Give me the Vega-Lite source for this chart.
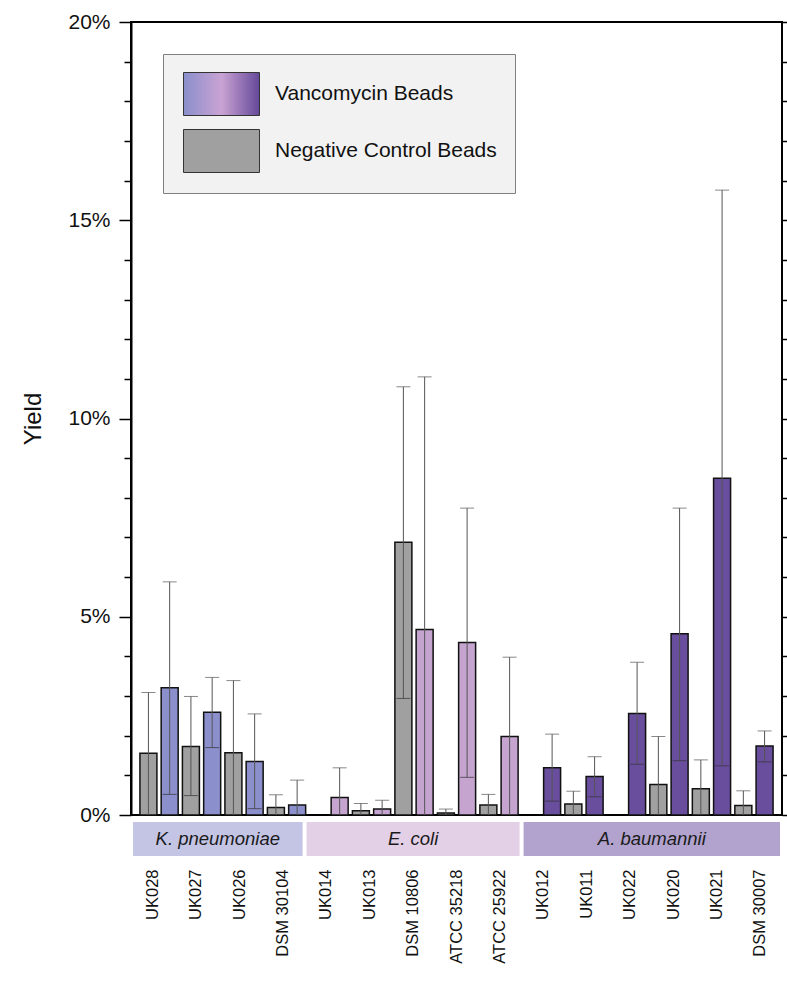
{
  "$schema": "https://vega.github.io/schema/vega-lite/v6.json",
  "background": "white",
  "padding": {"left": 20, "top": 10, "right": 0, "bottom": 0},
  "bounds": "flush",
  "spacing": 7,
  "resolve": {"scale": {"x": "independent"}},
  "config": {"font": "Liberation Sans", "view": {"stroke": null}},
  "datasets": {
    "bars": [
      {"group": "K. pneumoniae", "strain": "UK028", "beads": "Negative Control Beads", "yield": 1.56, "lo": 0, "hi": 3.09},
      {"group": "K. pneumoniae", "strain": "UK028", "beads": "Vancomycin Beads", "yield": 3.21, "lo": 0.52, "hi": 5.88},
      {"group": "K. pneumoniae", "strain": "UK027", "beads": "Negative Control Beads", "yield": 1.73, "lo": 0.49, "hi": 2.99},
      {"group": "K. pneumoniae", "strain": "UK027", "beads": "Vancomycin Beads", "yield": 2.59, "lo": 1.70, "hi": 3.47},
      {"group": "K. pneumoniae", "strain": "UK026", "beads": "Negative Control Beads", "yield": 1.57, "lo": 0, "hi": 3.39},
      {"group": "K. pneumoniae", "strain": "UK026", "beads": "Vancomycin Beads", "yield": 1.35, "lo": 0.16, "hi": 2.55},
      {"group": "K. pneumoniae", "strain": "DSM 30104", "beads": "Negative Control Beads", "yield": 0.19, "lo": 0, "hi": 0.51},
      {"group": "K. pneumoniae", "strain": "DSM 30104", "beads": "Vancomycin Beads", "yield": 0.25, "lo": 0, "hi": 0.88},
      {"group": "E. coli", "strain": "UK014", "beads": "Vancomycin Beads", "yield": 0.44, "lo": 0, "hi": 1.19},
      {"group": "E. coli", "strain": "UK013", "beads": "Negative Control Beads", "yield": 0.11, "lo": 0, "hi": 0.29},
      {"group": "E. coli", "strain": "UK013", "beads": "Vancomycin Beads", "yield": 0.15, "lo": 0, "hi": 0.37},
      {"group": "E. coli", "strain": "DSM 10806", "beads": "Negative Control Beads", "yield": 6.88, "lo": 2.94, "hi": 10.80},
      {"group": "E. coli", "strain": "DSM 10806", "beads": "Vancomycin Beads", "yield": 4.68, "lo": 0, "hi": 11.05},
      {"group": "E. coli", "strain": "ATCC 35218", "beads": "Negative Control Beads", "yield": 0.05, "lo": 0, "hi": 0.15},
      {"group": "E. coli", "strain": "ATCC 35218", "beads": "Vancomycin Beads", "yield": 4.35, "lo": 0.95, "hi": 7.74},
      {"group": "E. coli", "strain": "ATCC 25922", "beads": "Negative Control Beads", "yield": 0.25, "lo": 0, "hi": 0.52},
      {"group": "E. coli", "strain": "ATCC 25922", "beads": "Vancomycin Beads", "yield": 1.98, "lo": 0, "hi": 3.98},
      {"group": "A. baumannii", "strain": "UK012", "beads": "Vancomycin Beads", "yield": 1.19, "lo": 0.35, "hi": 2.04},
      {"group": "A. baumannii", "strain": "UK011", "beads": "Negative Control Beads", "yield": 0.28, "lo": 0, "hi": 0.60},
      {"group": "A. baumannii", "strain": "UK011", "beads": "Vancomycin Beads", "yield": 0.97, "lo": 0.46, "hi": 1.47},
      {"group": "A. baumannii", "strain": "UK022", "beads": "Vancomycin Beads", "yield": 2.56, "lo": 1.28, "hi": 3.85},
      {"group": "A. baumannii", "strain": "UK020", "beads": "Negative Control Beads", "yield": 0.77, "lo": 0, "hi": 1.98},
      {"group": "A. baumannii", "strain": "UK020", "beads": "Vancomycin Beads", "yield": 4.57, "lo": 1.37, "hi": 7.74},
      {"group": "A. baumannii", "strain": "UK021", "beads": "Negative Control Beads", "yield": 0.66, "lo": 0, "hi": 1.39},
      {"group": "A. baumannii", "strain": "UK021", "beads": "Vancomycin Beads", "yield": 8.49, "lo": 1.24, "hi": 15.76},
      {"group": "A. baumannii", "strain": "DSM 30007", "beads": "Negative Control Beads", "yield": 0.24, "lo": 0, "hi": 0.61},
      {"group": "A. baumannii", "strain": "DSM 30007", "beads": "Vancomycin Beads", "yield": 1.74, "lo": 1.34, "hi": 2.12}
    ],
    "groups": [
      {"group": "K. pneumoniae", "first": "UK028", "last": "DSM 30104", "mid": "UK027", "n": 4},
      {"group": "E. coli", "first": "UK014", "last": "ATCC 25922", "mid": "DSM 10806", "n": 5},
      {"group": "A. baumannii", "first": "UK012", "last": "DSM 30007", "mid": "UK022", "n": 6}
    ]
  },
  "vconcat": [
    {
      "width": 651,
      "height": 793,
      "view": {"stroke": "#000", "strokeWidth": 2},
      "data": {"name": "bars"},
      "encoding": {
        "x": {
          "field": "strain", "type": "nominal",
          "scale": {"domain": ["UK028", "UK027", "UK026", "DSM 30104", "UK014", "UK013", "DSM 10806", "ATCC 35218", "ATCC 25922", "UK012", "UK011", "UK022", "UK020", "UK021", "DSM 30007"], "paddingInner": 0, "paddingOuter": 0.16},
          "axis": null
        },
        "xOffset": {
          "field": "beads", "type": "nominal",
          "scale": {"domain": ["Negative Control Beads", "Vancomycin Beads"], "paddingInner": 0.2, "paddingOuter": 0.1}
        }
      },
      "layer": [
        {
          "mark": {"type": "bar", "stroke": "#111", "strokeWidth": 1.5},
          "encoding": {
            "y": {
              "field": "yield", "type": "quantitative",
              "scale": {"domain": [0, 20], "nice": false},
              "axis": {"orient": "left", "values": [0, 5, 10, 15, 20], "labelExpr": "datum.value + '%'", "title": "Yield", "grid": false,
                "tickSize": 12, "tickWidth": 1.5, "tickColor": "#000", "domain": true, "domainColor": "#000", "domainWidth": 2,
                "labelFontSize": 21, "labelColor": "#111", "labelPadding": 9, "titleFontSize": 24, "titleFontWeight": "normal", "titleColor": "#111", "titlePadding": 22}
            },
            "fill": {
              "condition": {"test": "datum.beads === 'Negative Control Beads'", "value": "#a0a0a0"},
              "field": "group", "type": "nominal",
              "scale": {
                "domain": ["Vancomycin Beads", "Negative Control Beads", "K. pneumoniae", "E. coli", "A. baumannii"],
                "range": [
                  {"expr": "{gradient: 'linear', x1: 0, y1: 0, x2: 1, y2: 0, stops: [{offset: 0, color: '#8a8fcc'}, {offset: 0.5, color: '#c9a3d3'}, {offset: 1, color: '#65489a'}]}"},
                  "#a0a0a0", "#8b8fcc", "#c5a4d0", "#6a4e9e"
                ]
              },
              "legend": {
                "values": ["Vancomycin Beads", "Negative Control Beads"],
                "orient": "none", "legendX": 32, "legendY": 32, "title": null,
                "symbolType": "M-1.767,-1H1.767V1H-1.767Z", "symbolSize": 1849, "symbolStrokeWidth": 1, "symbolStrokeColor": "#333",
                "symbolOffset": 18.5, "labelOffset": 31.5, "labelFontSize": 21, "labelColor": "#111", "labelLimit": 400,
                "rowPadding": 9, "padding": 18, "fillColor": "#f2f2f2", "strokeColor": "#808080"
              }
            }
          }
        },
        {
          "mark": {"type": "rule", "color": "#555", "strokeWidth": 1},
          "encoding": {
            "y": {
              "field": "lo", "type": "quantitative", "scale": {"domain": [0, 20], "nice": false},
              "axis": {"orient": "left", "values": [1, 2, 3, 4, 6, 7, 8, 9, 11, 12, 13, 14, 16, 17, 18, 19], "labels": false, "tickSize": 7, "tickWidth": 1.5, "tickColor": "#000", "domain": false, "grid": false, "title": null}
            },
            "y2": {"field": "hi"}
          }
        },
        {
          "mark": {"type": "tick", "color": "#555", "thickness": 1, "size": 14},
          "encoding": {
            "y": {
              "field": "hi", "type": "quantitative", "scale": {"domain": [0, 20], "nice": false},
              "axis": {"orient": "right", "values": [0, 1, 2, 3, 4, 5, 6, 7, 8, 9, 10, 11, 12, 13, 14, 15, 16, 17, 18, 19, 20], "labels": false, "tickSize": 7, "tickWidth": 1.5, "tickColor": "#000", "domain": false, "grid": false, "title": null}
            }
          }
        },
        {
          "transform": [{"filter": "datum.lo > 0"}],
          "mark": {"type": "tick", "color": "#333", "thickness": 1, "size": 14},
          "encoding": {
            "y": {"field": "lo", "type": "quantitative", "scale": {"domain": [0, 20], "nice": false}, "axis": null}
          }
        }
      ],
      "resolve": {"axis": {"y": "independent"}}
    },
    {
      "width": 651,
      "height": 34,
      "data": {"name": "groups"},
      "layer": [
        {
          "mark": {"type": "rect", "xOffset": 2, "x2Offset": -2},
          "encoding": {
            "x": {
              "field": "first", "type": "nominal", "bandPosition": 0,
              "scale": {"domain": ["UK028", "UK027", "UK026", "DSM 30104", "UK014", "UK013", "DSM 10806", "ATCC 35218", "ATCC 25922", "UK012", "UK011", "UK022", "UK020", "UK021", "DSM 30007"], "paddingInner": 0, "paddingOuter": 0},
              "axis": {"orient": "bottom", "labelAngle": -90, "labelAlign": "right", "labelBaseline": "middle", "labelPadding": 13, "labelFontSize": 16.5, "labelColor": "#111", "labelFont": "Liberation Sans", "ticks": false, "domain": false, "title": null, "labelLimit": 200, "grid": false}
            },
            "x2": {"field": "last", "bandPosition": 1},
            "color": {
              "field": "group", "type": "nominal",
              "scale": {"domain": ["K. pneumoniae", "E. coli", "A. baumannii"], "range": ["#c4c5e5", "#e4d0e6", "#b1a3cd"]},
              "legend": null
            }
          }
        },
        {
          "transform": [{"filter": "datum.n % 2 === 1"}],
          "mark": {"type": "text", "fontStyle": "italic", "fontSize": 18.5, "color": "#1a1a1a"},
          "encoding": {
            "x": {"field": "mid", "type": "nominal", "bandPosition": 0.5,
              "axis": {"orient": "bottom", "labelAngle": -90, "labelAlign": "right", "labelBaseline": "middle", "labelPadding": 13, "labelFontSize": 16.5, "labelColor": "#111", "labelFont": "Liberation Sans", "ticks": false, "domain": false, "title": null, "labelLimit": 200, "grid": false}},
            "text": {"field": "group"}
          }
        },
        {
          "transform": [{"filter": "datum.n % 2 === 0"}],
          "mark": {"type": "text", "fontStyle": "italic", "fontSize": 18.5, "color": "#1a1a1a"},
          "encoding": {
            "x": {"field": "mid", "type": "nominal", "bandPosition": 1,
              "axis": {"orient": "bottom", "labelAngle": -90, "labelAlign": "right", "labelBaseline": "middle", "labelPadding": 13, "labelFontSize": 16.5, "labelColor": "#111", "labelFont": "Liberation Sans", "ticks": false, "domain": false, "title": null, "labelLimit": 200, "grid": false}},
            "text": {"field": "group"}
          }
        }
      ]
    }
  ]
}
